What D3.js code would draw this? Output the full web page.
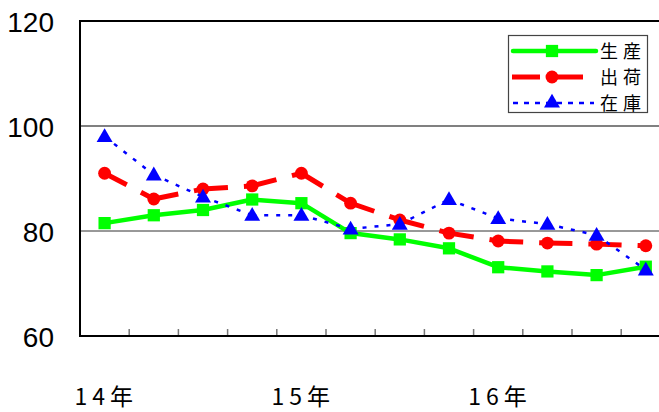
<!DOCTYPE html>
<html><head><meta charset="utf-8">
<script src="https://cdn.jsdelivr.net/npm/d3@7"></script>
<style>body{margin:0;background:#fff;overflow:hidden}</style>
</head><body>
<svg id="c" width="659" height="412"></svg>
<script>
const periods = ["14-1","14-2","14-3","14-4","15-1","15-2","15-3","15-4","16-1","16-2","16-3","16-4"];
const yearLabels = [{at:"14-1",text:"14年"},{at:"15-1",text:"15年"},{at:"16-1",text:"16年"}];
const production = [81.5, 83.0, 84.0, 86.0, 85.3, 79.6, 78.4, 76.7, 73.1, 72.3, 71.6, 73.2];
const shipment   = [91.0, 86.1, 88.0, 88.6, 91.0, 85.3, 82.1, 79.6, 78.1, 77.7, 77.5, 77.2];
const inventory  = [98.0, 90.7, 86.5, 83.0, 83.0, 80.4, 81.3, 86.0, 82.4, 81.3, 79.2, 72.6];
const yTicks = [60, 80, 100, 120];
const seriesNames = ["生産","出荷","在庫"];

const svg = d3.select("#c");
const L = 80, R = 670.4, T = 21, B = 336;
const x = d3.scaleBand().domain(periods).range([L, R]);
const cx = p => x(p) + x.bandwidth() / 2;
const y = d3.scaleLinear().domain([60, 120]).range([B, T]);

// gridlines
svg.append("line").attr("x1", L).attr("x2", 659).attr("y1", y(100)).attr("y2", y(100))
  .attr("stroke", "#808080").attr("stroke-width", 2);
svg.append("line").attr("x1", L).attr("x2", 659).attr("y1", y(80)).attr("y2", y(80))
  .attr("stroke", "#333").attr("stroke-width", 1);
// top border
svg.append("line").attr("x1", L - 1).attr("x2", 659).attr("y1", y(120)).attr("y2", y(120))
  .attr("stroke", "#000").attr("stroke-width", 2);

// x ticks (band boundaries, inward)
const bounds = periods.slice(1).map(p => x(p));
svg.selectAll(".xt").data(bounds).enter().append("line")
  .attr("x1", d => d).attr("x2", d => d).attr("y1", B).attr("y2", B - 7)
  .attr("stroke", "#777").attr("stroke-width", 1.5);

// axes lines
svg.append("line").attr("x1", L).attr("x2", L).attr("y1", T - 1).attr("y2", B + 1)
  .attr("stroke", "#000").attr("stroke-width", 2);
svg.append("line").attr("x1", L - 1).attr("x2", 659).attr("y1", B).attr("y2", B)
  .attr("stroke", "#000").attr("stroke-width", 2);

// y labels
svg.selectAll(".yl").data(yTicks).enter().append("text")
  .attr("x", 54).attr("y", d => y(d) + 10.5)
  .attr("text-anchor", "end")
  .style("font-family", "'Liberation Sans', Arial, sans-serif").style("font-size", "28px")
  .attr("fill", "#000").text(d => d);

// x labels
svg.selectAll(".xl").data(yearLabels).enter().append("text")
  .attr("x", d => cx(d.at) - 30).attr("y", 405)
  .style("font-family", "'Noto Sans CJK JP', sans-serif").style("font-size", "23px")
  .style("letter-spacing", "5px")
  .attr("fill", "#000").text(d => d.text);

function segs(vals) {
  return d3.pairs(periods.map((p, i) => [cx(p), y(vals[i])]));
}
function drawSeries(vals, color, width, dash) {
  const g = svg.append("g");
  g.selectAll("line").data(segs(vals)).enter().append("line")
    .attr("x1", d => d[0][0]).attr("y1", d => d[0][1])
    .attr("x2", d => d[1][0]).attr("y2", d => d[1][1])
    .attr("stroke", color).attr("stroke-width", width)
    .attr("stroke-dasharray", dash);
  return g;
}
const sq = d3.symbol().type(d3.symbolSquare).size(150);
const ci = d3.symbol().type(d3.symbolCircle).size(130);
const tr = d3.symbol().type(d3.symbolTriangle).size(110);

// production
drawSeries(production, "#00ff00", 4.5, null);
svg.append("g").selectAll("path").data(production).enter().append("path")
  .attr("d", sq).attr("transform", (d, i) => `translate(${cx(periods[i])},${y(d)})`).attr("fill", "#00ff00");
// shipment
drawSeries(shipment, "#ff0000", 5, "25,16");
svg.append("g").selectAll("path").data(shipment).enter().append("path")
  .attr("d", ci).attr("transform", (d, i) => `translate(${cx(periods[i])},${y(d)})`).attr("fill", "#ff0000");
// inventory
drawSeries(inventory, "#0000ff", 2.5, "4,8");
svg.append("g").selectAll("path").data(inventory).enter().append("path")
  .attr("d", tr).attr("transform", (d, i) => `translate(${cx(periods[i])},${y(d) + 1})`).attr("fill", "#0000ff");

// legend
const lg = svg.append("g");
lg.append("rect").attr("x", 508.5).attr("y", 35.5).attr("width", 139).attr("height", 77)
  .attr("fill", "#fff").attr("stroke", "#444").attr("stroke-width", 1.2);
const rows = [51, 77, 103];
// green
lg.append("line").attr("x1", 513).attr("x2", 596).attr("y1", rows[0]).attr("y2", rows[0])
  .attr("stroke", "#00ff00").attr("stroke-width", 4.5).attr("stroke-linecap", "round");
lg.append("path").attr("d", sq).attr("transform", `translate(552,${rows[0]})`).attr("fill", "#00ff00");
// red
lg.append("line").attr("x1", 512).attr("x2", 540).attr("y1", rows[1]).attr("y2", rows[1])
  .attr("stroke", "#ff0000").attr("stroke-width", 5);
lg.append("line").attr("x1", 557).attr("x2", 583).attr("y1", rows[1]).attr("y2", rows[1])
  .attr("stroke", "#ff0000").attr("stroke-width", 5);
lg.append("path").attr("d", ci).attr("transform", `translate(552,${rows[1]})`).attr("fill", "#ff0000");
// blue
lg.append("line").attr("x1", 513).attr("x2", 594).attr("y1", rows[2]).attr("y2", rows[2])
  .attr("stroke", "#0000ff").attr("stroke-width", 2.5).attr("stroke-dasharray", "5,6");
lg.append("path").attr("d", tr).attr("transform", `translate(552,${rows[2]})`).attr("fill", "#0000ff");
lg.selectAll("text").data(seriesNames).enter().append("text")
  .attr("x", 600).attr("y", (d, i) => rows[i] + 7)
  .style("font-family", "'Noto Sans CJK JP', sans-serif").style("font-size", "18px")
  .style("letter-spacing", "5px").attr("fill", "#000").text(d => d);
</script>
</body></html>
